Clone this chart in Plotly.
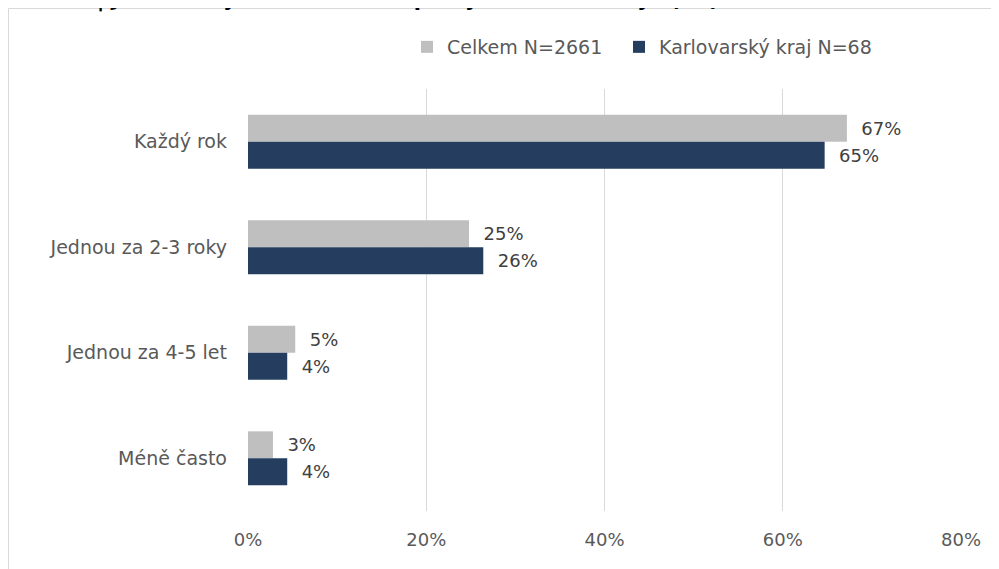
import plotly.graph_objects as go

categories = ["Každý rok", "Jednou za 2-3 roky", "Jednou za 4-5 let", "Méně často"]
celkem = [67.2, 24.8, 5.3, 2.8]
karlovarsky = [64.7, 26.4, 4.4, 4.4]
series_names = ["Celkem N=2661", "Karlovarský kraj N=68"]
tick_vals = [0, 20, 40, 60, 80]
tick_text = ["0%", "20%", "40%", "60%", "80%"]
title_text = "Graf 17 | Jak často jsou vzdělávací plány aktualizovány? (28)"

W, H = 999, 569
OFF = 8  # page body margin
L, R, T, B = 248 - OFF, 961 - OFF, 89 - OFF, 511 - OFF


def px(xp):
    xp -= OFF
    return (xp - L) / (R - L)


def py(yp):
    yp -= OFF
    return (B - yp) / (B - T)


FONT = "DejaVu Sans"
FS = 18
FS_CAT = 19
fig = go.Figure()
fig.add_trace(go.Bar(
    y=categories, x=celkem, name=series_names[0], orientation="h",
    marker=dict(color="#BFBFBF", line=dict(width=0)),
    texttemplate="\u00a0\u00a0%{x:.0f}%", textposition="outside",
    textfont=dict(color="#404040", size=FS, family=FONT), cliponaxis=False,
    legend="legend",
))
fig.add_trace(go.Bar(
    y=categories, x=karlovarsky, name=series_names[1], orientation="h",
    marker=dict(color="#253E5F", line=dict(width=0)),
    texttemplate="\u00a0\u00a0%{x:.0f}%", textposition="outside",
    textfont=dict(color="#404040", size=FS, family=FONT), cliponaxis=False,
    legend="legend2",
))

legend_common = dict(orientation="h", xanchor="left", yanchor="middle",
                     font=dict(size=FS_CAT, color="#595959", family=FONT),
                     itemwidth=30, bgcolor="rgba(0,0,0,0)")

fig.update_layout(
    width=W, height=H,
    margin=dict(l=L, r=W - R, t=T, b=H - B, pad=0),
    paper_bgcolor="white", plot_bgcolor="white",
    barmode="group", bargap=0.49, bargroupgap=0,
    font=dict(family=FONT, size=FS, color="#595959"),
    xaxis=dict(range=[0, 80], tickvals=tick_vals, ticktext=tick_text,
               showgrid=True, gridcolor="#D9D9D9", gridwidth=1,
               zeroline=False, showline=False, ticks="",
               tickfont=dict(size=FS, color="#595959"), ticklabelstandoff=16),
    yaxis=dict(categoryorder="array", categoryarray=categories, autorange="reversed",
               showgrid=False, zeroline=False, showline=False, ticks="",
               tickfont=dict(size=FS_CAT, color="#595959"), ticklabelstandoff=20),
    legend=dict(x=px(407), y=py(47), **legend_common),
    legend2=dict(x=px(619), y=py(47), **legend_common),
    showlegend=True,
)

# outer frame
fig.add_shape(type="rect", xref="paper", yref="paper",
              x0=px(8.5), x1=px(1020), y0=py(8.5), y1=py(600),
              line=dict(color="#D9D9D9", width=1), fillcolor="rgba(0,0,0,0)", layer="below")

fig.add_annotation(text="<b>" + title_text + "</b>", xref="paper", yref="paper",
                   x=px(0), y=py(14), xanchor="left", yanchor="bottom", showarrow=False,
                   font=dict(family="DejaVu Sans", size=21, color="#000000"))

fig.write_html("out.html")
